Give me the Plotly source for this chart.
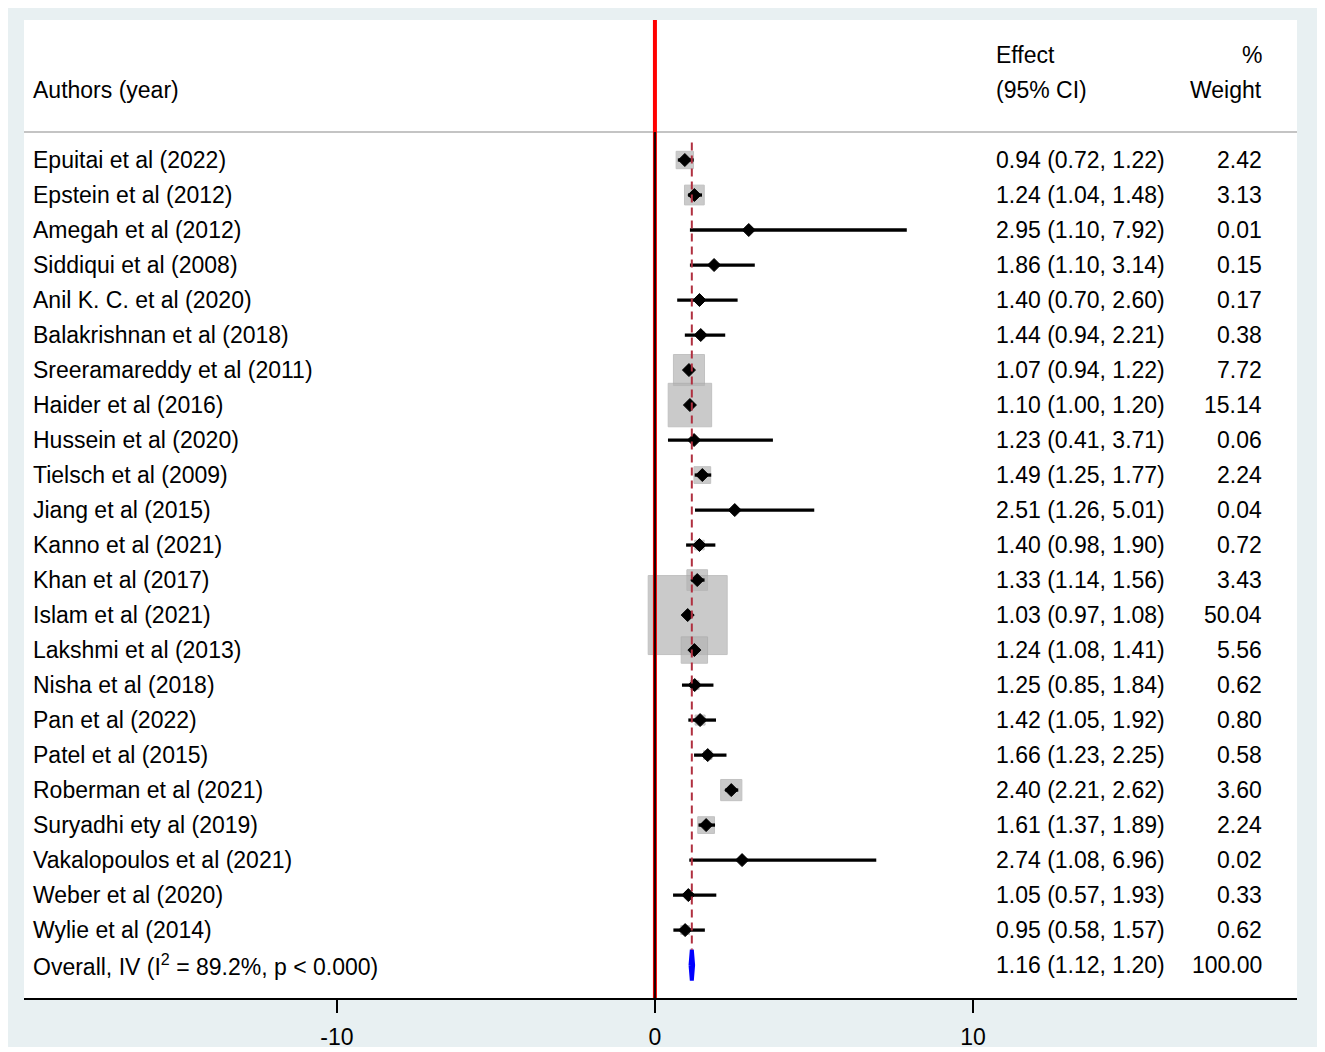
import plotly.graph_objects as go
import numpy as np

authors = [
    "Epuitai et al (2022)", "Epstein et al (2012)", "Amegah et al (2012)",
    "Siddiqui et al (2008)", "Anil K. C. et al (2020)", "Balakrishnan et al (2018)",
    "Sreeramareddy et al (2011)", "Haider et al (2016)", "Hussein et al (2020)",
    "Tielsch et al (2009)", "Jiang et al (2015)", "Kanno et al (2021)",
    "Khan et al (2017)", "Islam et al (2021)", "Lakshmi et al (2013)",
    "Nisha et al (2018)", "Pan et al (2022)", "Patel et al (2015)",
    "Roberman et al (2021)", "Suryadhi ety al (2019)", "Vakalopoulos et al (2021)",
    "Weber et al (2020)", "Wylie et al (2014)",
]
effect = [0.94, 1.24, 2.95, 1.86, 1.40, 1.44, 1.07, 1.10, 1.23, 1.49, 2.51, 1.40,
          1.33, 1.03, 1.24, 1.25, 1.42, 1.66, 2.40, 1.61, 2.74, 1.05, 0.95]
ci_low = [0.72, 1.04, 1.10, 1.10, 0.70, 0.94, 0.94, 1.00, 0.41, 1.25, 1.26, 0.98,
          1.14, 0.97, 1.08, 0.85, 1.05, 1.23, 2.21, 1.37, 1.08, 0.57, 0.58]
ci_high = [1.22, 1.48, 7.92, 3.14, 2.60, 2.21, 1.22, 1.20, 3.71, 1.77, 5.01, 1.90,
           1.56, 1.08, 1.41, 1.84, 1.92, 2.25, 2.62, 1.89, 6.96, 1.93, 1.57]
weight = [2.42, 3.13, 0.01, 0.15, 0.17, 0.38, 7.72, 15.14, 0.06, 2.24, 0.04, 0.72,
          3.43, 50.04, 5.56, 0.62, 0.80, 0.58, 3.60, 2.24, 0.02, 0.33, 0.62]

overall_label = "Overall, IV (I<sup>2</sup> = 89.2%, p &lt; 0.000)"
overall_effect = 1.16
overall_low = 1.12
overall_high = 1.20
overall_weight = 100.00

x_ticks = [-10, 0, 10]

FONT = "Liberation Sans, Arial, sans-serif"
FS = 23
n = len(authors)
rows = list(range(n))
overall_row = n

fig = go.Figure()

# CI lines
cx, cy = [], []
for i in rows:
    cx += [ci_low[i], ci_high[i], None]
    cy += [i, i, None]

# weight boxes
box_sizes = [79 * np.sqrt(w / max(weight)) for w in weight]
fig.add_trace(go.Scatter(x=effect, y=rows, mode="markers",
                         marker=dict(symbol="square", size=box_sizes, color="#b4b4b4",
                                     line=dict(color="#a8a8a8", width=1)),
                         hoverinfo="skip"))
fig.add_trace(go.Scatter(x=cx, y=cy, mode="lines",
                         line=dict(color="black", width=3.3), hoverinfo="skip"))
# point estimates
fig.add_trace(go.Scatter(x=effect, y=rows, mode="markers",
                         marker=dict(symbol="diamond", size=10, color="black",
                                     line=dict(color="black", width=1)),
                         hoverinfo="skip"))

# overall diamond
h = 0.44
fig.add_trace(go.Scatter(
    x=[overall_low, overall_effect, overall_high, overall_effect, overall_low],
    y=[overall_row, overall_row - h, overall_row, overall_row + h, overall_row],
    mode="lines", fill="toself", fillcolor="#0000ff",
    line=dict(color="#0000ff", width=4), hoverinfo="skip"))

YTOP, YBOT = -4.0, 23.94
HEAD_LINE = -0.8

# figure is offset by the 8px page margin; plot area 1273x978 px
PW, PH = 1273, 978
ML, MT = 16, 12
shapes = []
shapes.append(dict(type="rect", xref="paper", yref="paper",
                   x0=-ML / PW, x1=(1312 - ML) / PW,
                   y0=(MT + PH - 1039) / PH, y1=(MT + PH) / PH,
                   fillcolor="#e8f0f2", line=dict(width=0), layer="below"))
shapes.append(dict(type="rect", xref="paper", yref="paper", x0=0, x1=1, y0=0, y1=1,
                   fillcolor="white", line=dict(width=0), layer="below"))
# header separator
shapes.append(dict(type="line", xref="paper", yref="y", x0=0, x1=1,
                   y0=HEAD_LINE, y1=HEAD_LINE, line=dict(color="#c4c4c4", width=2)))
# null line
shapes.append(dict(type="line", x0=0, x1=0, y0=YTOP, y1=YBOT,
                   line=dict(color="#ff0000", width=4)))
shapes.append(dict(type="line", x0=0, x1=0, y0=HEAD_LINE, y1=YBOT,
                   line=dict(color="#200000", width=2.2)))
# overall effect dashed line
shapes.append(dict(type="line", x0=overall_effect, x1=overall_effect,
                   y0=-0.5, y1=overall_row - h,
                   line=dict(color="#b03040", width=2, dash="8px,5px")))

annotations = []
def txt(x, y, s, anchor="left"):
    annotations.append(dict(x=x, y=y, xref="x", yref="y", text=s, showarrow=False,
                            xanchor=anchor, yanchor="middle",
                            font=dict(family=FONT, size=FS, color="black")))

X_AUTH, X_EFF, X_W = -19.62, 10.66, 19.15
txt(X_AUTH, -2, "Authors (year)")
txt(X_EFF, -3, "Effect")
txt(X_EFF, -2, "(95% CI)")
txt(X_W, -3, "%", "right")
txt(X_W, -2, "Weight", "right")
for i in rows:
    txt(X_AUTH, i, authors[i])
    txt(X_EFF, i, f"{effect[i]:.2f} ({ci_low[i]:.2f}, {ci_high[i]:.2f})")
    txt(X_W, i, f"{weight[i]:.2f}", "right")
txt(X_AUTH, overall_row, overall_label)
txt(X_EFF, overall_row, f"{overall_effect:.2f} ({overall_low:.2f}, {overall_high:.2f})")
txt(X_W, overall_row, f"{overall_weight:.2f}", "right")

fig.update_layout(
    width=1317, height=1044,
    margin=dict(l=ML, r=1317 - ML - PW, t=MT, b=1044 - MT - PH, autoexpand=False),
    paper_bgcolor="white", plot_bgcolor="white",
    showlegend=False,
    shapes=shapes, annotations=annotations,
    font=dict(family=FONT, size=FS, color="black"),
    xaxis=dict(range=[-19.84, 20.19], tickvals=x_ticks, ticktext=[str(t) for t in x_ticks],
               showgrid=False, zeroline=False, showline=True, linecolor="black",
               linewidth=2, ticks="outside", ticklen=13, tickwidth=1.5,
               tickcolor="black", ticklabelstandoff=4, automargin=False,
               tickfont=dict(family=FONT, size=FS, color="black")),
    yaxis=dict(range=[YBOT, YTOP], showgrid=False, zeroline=False, showline=False,
               showticklabels=False, ticks="", automargin=False),
)

fig.write_html("out.html")
